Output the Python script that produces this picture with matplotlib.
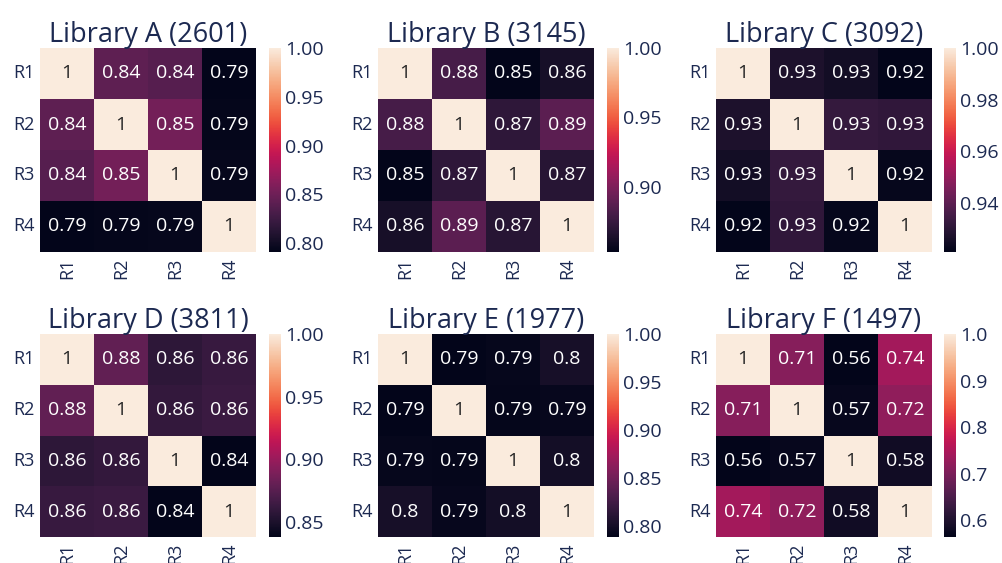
import numpy as np
import matplotlib
matplotlib.use("Agg")
import matplotlib.pyplot as plt
import seaborn as sns

sns.set_theme(style="white")
plt.rcParams['font.family'] = ['Open Sans', 'DejaVu Sans']

NAVY = "#1c2951"

labels = ["R1", "R2", "R3", "R4"]
titles = ["Library A (2601)", "Library B (3145)", "Library C (3092)",
          "Library D (3811)", "Library E (1977)", "Library F (1497)"]

# upper-triangle correlations: (R1R2, R1R3, R1R4, R2R3, R2R4, R3R4)
lib_a = [0.842, 0.838, 0.791, 0.853, 0.793, 0.794]
lib_b = [0.880, 0.853, 0.862, 0.871, 0.888, 0.868]
lib_c = [0.927, 0.925, 0.921, 0.932, 0.931, 0.922]
lib_d = [0.879, 0.857, 0.862, 0.860, 0.863, 0.838]
lib_e = [0.788, 0.791, 0.801, 0.790, 0.792, 0.799]
lib_f = [0.712, 0.564, 0.741, 0.572, 0.722, 0.583]
libs = [lib_a, lib_b, lib_c, lib_d, lib_e, lib_f]


def to_matrix(vals):
    m = np.eye(4)
    iu = np.triu_indices(4, 1)
    m[iu] = vals
    m[(iu[1], iu[0])] = vals
    return m


fig = plt.figure(figsize=(10.02, 5.63), dpi=100)
W, H = 1002.0, 563.0
col_x = [40, 378, 716]
cb_x = [269, 607, 944]
row_y = [(48, 252), (334, 537)]
hm_w = 216
cb_w = 12

for i, (vals, title) in enumerate(zip(libs, titles)):
    r, c = divmod(i, 3)
    y0, y1 = row_y[r]
    ax = fig.add_axes([col_x[c] / W, 1 - y1 / H, hm_w / W, (y1 - y0) / H])
    cax = fig.add_axes([cb_x[c] / W, 1 - y1 / H, cb_w / W, (y1 - y0) / H])
    m = to_matrix(vals)
    sns.heatmap(m, ax=ax, cbar_ax=cax, cmap="rocket", annot=True,
                xticklabels=labels, yticklabels=labels,
                annot_kws={"fontsize": 14}, vmax=1.0)
    ax.set_title(title, fontsize=19.5, color=NAVY, pad=4)
    ax.tick_params(axis="both", length=0, labelsize=13, colors=NAVY, pad=4)
    ax.set_xticklabels(labels, rotation=90, color=NAVY)
    ax.set_yticklabels(labels, rotation=0, color=NAVY)
    cax.tick_params(length=0, labelsize=14, colors=NAVY, pad=3)
    cax.yaxis.set_major_formatter(matplotlib.ticker.FormatStrFormatter(
        "%.1f" if i == 5 else "%.2f"))

fig.savefig("out.png", dpi=100)
